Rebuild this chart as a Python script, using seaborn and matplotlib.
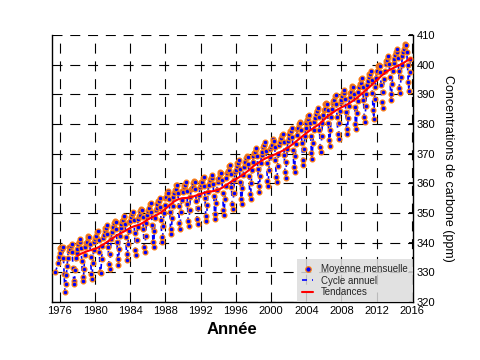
import numpy as np
import pandas as pd
import matplotlib
matplotlib.use("Agg")
import matplotlib.pyplot as plt
from matplotlib.lines import Line2D
import seaborn as sns

nan = np.nan
# Monthly means, starting July 1975 (one value per month)
co2_1975_1979 = [
    330.0, nan, nan, nan, 333.3, 335.3,
    336.6, 338.1, 338.4, 337.9, 338.4, 335.0, 329.4, 323.5, 326.0, 329.0, 332.2, 334.8,
    338.4, 337.3, 338.0, 338.9, 339.4, 337.0, 331.6, 327.2, 326.1, 330.8, 334.9, 336.6,
    338.0, 339.4, 340.1, 340.2, 341.2, 338.3, 333.9, 328.3, 327.0, 331.0, 336.0, 338.7,
    339.8, 340.1, 341.6, 342.2, 341.9, 339.6, 335.3, 329.5, 327.6, 333.0, 337.4, 340.2,
]
co2_1980_1989 = [
    341.3, 342.0, 342.3, 343.6, 343.9, 341.0, 336.8, 330.0, 329.9, 334.4, 338.8, 341.6,
    342.5, 344.0, 344.9, 345.0, 345.8, 343.0, 338.6, 332.8, 331.0, 336.3, 341.4, 343.5,
    344.9, 345.2, 346.6, 347.2, 346.8, 344.6, 340.3, 334.5, 332.6, 338.0, 342.4, 345.1,
    346.4, 347.3, 347.5, 348.8, 349.1, 346.2, 341.9, 336.1, 334.2, 339.6, 344.0, 346.8,
    347.2, 348.8, 349.5, 349.6, 350.4, 347.7, 343.2, 337.5, 335.7, 341.0, 345.4, 348.1,
    349.0, 349.4, 350.8, 351.3, 351.0, 348.8, 344.5, 338.6, 336.8, 342.3, 346.6, 349.4,
    350.6, 351.5, 351.8, 353.0, 353.3, 350.4, 346.1, 340.3, 338.5, 343.9, 348.2, 351.0,
    351.7, 353.2, 354.0, 354.1, 355.0, 352.1, 347.8, 342.0, 340.2, 345.6, 349.9, 352.7,
    354.9, 355.3, 356.7, 357.3, 356.9, 354.7, 350.4, 344.6, 342.8, 348.2, 352.5, 355.3,
    356.9, 357.8, 358.1, 359.3, 359.6, 356.7, 352.4, 346.6, 344.7, 350.2, 354.5, 357.3,
]
co2_1990_1999 = [
    357.1, 358.6, 359.4, 359.5, 360.4, 357.5, 353.2, 347.4, 345.6, 351.0, 355.3, 358.1,
    358.4, 358.8, 360.2, 360.8, 360.4, 358.2, 353.9, 348.1, 346.3, 351.7, 356.0, 358.8,
    359.4, 360.3, 360.6, 361.8, 362.1, 359.2, 354.9, 349.1, 347.3, 352.7, 357.0, 359.8,
    359.5, 361.0, 361.8, 361.9, 362.8, 359.9, 355.6, 349.8, 348.0, 353.4, 357.7, 360.5,
    361.4, 361.8, 363.2, 363.8, 363.4, 361.2, 356.9, 351.1, 349.3, 354.7, 359.0, 361.8,
    363.4, 364.3, 364.6, 365.8, 366.1, 363.2, 358.9, 353.1, 351.3, 356.7, 361.0, 363.8,
    364.5, 366.0, 366.8, 366.9, 367.8, 364.9, 360.6, 354.8, 353.0, 358.4, 362.7, 365.5,
    366.8, 367.2, 368.6, 369.2, 368.8, 366.6, 362.3, 356.5, 354.7, 360.1, 364.4, 367.2,
    369.3, 370.2, 370.5, 371.7, 372.0, 369.1, 364.8, 359.0, 357.2, 362.6, 366.9, 369.7,
    370.6, 372.1, 372.9, 373.0, 373.9, 371.0, 366.7, 360.9, 359.1, 364.5, 368.8, 371.6,
]
co2_2000_2009 = [
    372.4, 372.8, 374.2, 374.8, 374.4, 372.2, 367.9, 362.1, 360.3, 365.7, 370.0, 372.8,
    374.0, 374.9, 375.2, 376.4, 376.7, 373.8, 369.5, 363.7, 361.9, 367.3, 371.6, 374.4,
    375.2, 376.7, 377.5, 377.6, 378.5, 375.6, 371.3, 365.5, 363.7, 369.1, 373.4, 376.2,
    378.2, 378.6, 380.0, 380.6, 380.2, 378.0, 373.7, 367.9, 366.1, 371.5, 375.8, 378.6,
    380.4, 381.3, 381.6, 382.8, 383.1, 380.2, 375.9, 370.1, 368.3, 373.7, 378.0, 380.8,
    382.0, 383.5, 384.3, 384.4, 385.3, 382.4, 378.1, 372.3, 370.5, 375.9, 380.2, 383.0,
    384.8, 385.2, 386.6, 387.2, 386.8, 384.6, 380.3, 374.5, 372.7, 378.1, 382.4, 385.2,
    386.9, 387.8, 388.1, 389.3, 389.6, 386.7, 382.4, 376.6, 374.8, 380.2, 384.5, 387.3,
    388.0, 389.5, 390.3, 390.4, 391.3, 388.4, 384.1, 378.3, 376.5, 381.9, 386.2, 389.0,
    390.3, 390.7, 392.1, 392.7, 392.3, 390.1, 385.8, 380.0, 378.2, 383.6, 387.9, 390.7,
]
co2_2010_2015 = [
    392.6, 393.5, 393.8, 395.0, 395.4, 392.4, 388.1, 382.3, 380.5, 385.9, 390.2, 393.0,
    394.4, 395.9, 396.7, 396.8, 397.7, 394.8, 390.5, 384.7, 381.6, 388.3, 392.6, 395.4,
    397.6, 398.0, 399.4, 400.0, 399.6, 397.4, 393.1, 387.3, 385.5, 390.9, 395.2, 398.0,
    400.3, 401.2, 401.5, 402.7, 403.0, 400.1, 395.8, 390.0, 388.2, 393.6, 397.9, 400.7,
    401.8, 403.3, 404.1, 404.2, 405.1, 402.2, 397.9, 392.1, 390.3, 395.7, 400.0, 402.8,
    404.4, 405.3, 406.2, 406.8, 406.5, 404.2, 399.9, 394.1, 391.0, 397.6, 402.0,
]
start_year = 1975
start_month = 6  # July (0-based)

# Smoothed trend ("Tendances")
trend_x = [1978.0, 1978.5, 1979.0, 1979.5, 1980.0, 1980.5, 1981.0, 1981.5, 1982.0, 1982.5,
           1983.0, 1983.5, 1984.0, 1984.5, 1985.0, 1985.5, 1986.0, 1986.5, 1987.0, 1987.5,
           1988.0, 1988.5, 1989.0, 1989.5, 1990.0, 1990.5, 1991.0, 1991.5, 1992.0, 1992.5,
           1993.0, 1993.5, 1994.0, 1994.5, 1995.0, 1995.5, 1996.0, 1996.5, 1997.0, 1997.5,
           1998.0, 1998.5, 1999.0, 1999.5, 2000.0, 2000.5, 2001.0, 2001.5, 2002.0, 2002.5,
           2003.0, 2003.5, 2004.0, 2004.5, 2005.0, 2005.5, 2006.0, 2006.5, 2007.0, 2007.5,
           2008.0, 2008.5, 2009.0, 2009.5, 2010.0, 2010.5, 2011.0, 2011.5, 2012.0, 2012.5,
           2013.0, 2013.5, 2014.0, 2014.5, 2015.0, 2015.5, 2015.9]
trend_y = [335.6, 336.4, 337.0, 337.5, 337.9, 338.6, 339.5, 340.5, 341.5, 342.5,
           343.3, 344.1, 345.0, 345.6, 346.0, 346.8, 347.8, 348.6, 349.3, 350.2,
           351.4, 352.7, 353.9, 354.7, 355.0, 355.1, 355.4, 355.9, 356.4, 356.9,
           357.2, 357.4, 357.8, 358.6, 359.6, 360.6, 361.4, 362.3, 363.3, 364.5,
           365.8, 366.8, 367.8, 368.6, 369.2, 369.8, 370.5, 371.3, 372.2, 373.3,
           374.5, 375.7, 376.9, 378.0, 379.0, 380.0, 381.4, 382.8, 383.8, 384.8,
           385.6, 386.3, 387.2, 388.2, 389.4, 390.7, 392.0, 393.3, 394.7, 396.1,
           397.4, 398.3, 399.0, 399.7, 400.5, 401.4, 402.1]

x_ticks = [1976, 1980, 1984, 1988, 1992, 1996, 2000, 2004, 2008, 2012, 2016]
y_ticks = [320, 330, 340, 350, 360, 370, 380, 390, 400, 410]

values = co2_1975_1979 + co2_1980_1989 + co2_1990_1999 + co2_2000_2009 + co2_2010_2015
months = np.arange(len(values)) + start_month
df = pd.DataFrame({"annee": start_year + months / 12.0, "co2": values})
trend = pd.DataFrame({"annee": trend_x, "co2": trend_y})

sns.set_theme(style="white")
plt.rcParams["font.family"] = ["Liberation Sans", "DejaVu Sans"]

fig = plt.figure(figsize=(4.8, 3.6), dpi=100)
ax = fig.add_axes([0.108, 0.161, 0.752, 0.742])

ax.grid(True, color="black", linewidth=0.8, linestyle=(0, (9, 7)), zorder=0)
ax.set_axisbelow(True)

sns.lineplot(data=df, x="annee", y="co2", ax=ax, color="blue", linewidth=1.2,
             linestyle=(0, (3, 3)), estimator=None, sort=False, zorder=2)
sns.scatterplot(data=df, x="annee", y="co2", ax=ax, color="blue", edgecolor="#ff7f0e",
                s=12, linewidth=0.9, zorder=3)
sns.lineplot(data=trend, x="annee", y="co2", ax=ax, color="red", linewidth=1.5,
             estimator=None, sort=False, zorder=4)

ax.set_xlim(1975.1, 2016.1)
ax.set_ylim(320, 410)
ax.set_xticks(x_ticks)
ax.set_yticks(y_ticks)
ax.yaxis.tick_right()
ax.yaxis.set_label_position("right")
ax.tick_params(axis="both", labelsize=8, direction="in", length=3, color="black",
               labelcolor="black", pad=3)
ax.tick_params(axis="x", pad=3)

for side in ["left", "right", "bottom"]:
    ax.spines[side].set_visible(True)
    ax.spines[side].set_color("black")
    ax.spines[side].set_linewidth(1.0)
ax.spines["top"].set_visible(False)

ax.set_xlabel("Année", fontsize=12, fontweight="bold", color="black", labelpad=4)
ax.set_ylabel("Concentrations de carbone (ppm)", fontsize=9, color="black",
              rotation=270, labelpad=13)

handles = [
    Line2D([], [], linestyle="none", marker="o", markersize=4, markerfacecolor="blue",
           markeredgecolor="#ff7f0e", markeredgewidth=0.9),
    Line2D([], [], color="blue", linewidth=1.2, linestyle=(0, (3, 3))),
    Line2D([], [], color="red", linewidth=1.5),
]
labels = ["Moyenne mensuelle", "Cycle annuel", "Tendances"]
leg = ax.legend(handles, labels, loc="lower right", fontsize=7, frameon=True,
                fancybox=False, facecolor="#dcdcdc", edgecolor="none", framealpha=0.85,
                borderaxespad=0.0, handlelength=1.2, handletextpad=0.8,
                labelspacing=0.15, borderpad=0.5)

fig.savefig("out.png", dpi=100)
